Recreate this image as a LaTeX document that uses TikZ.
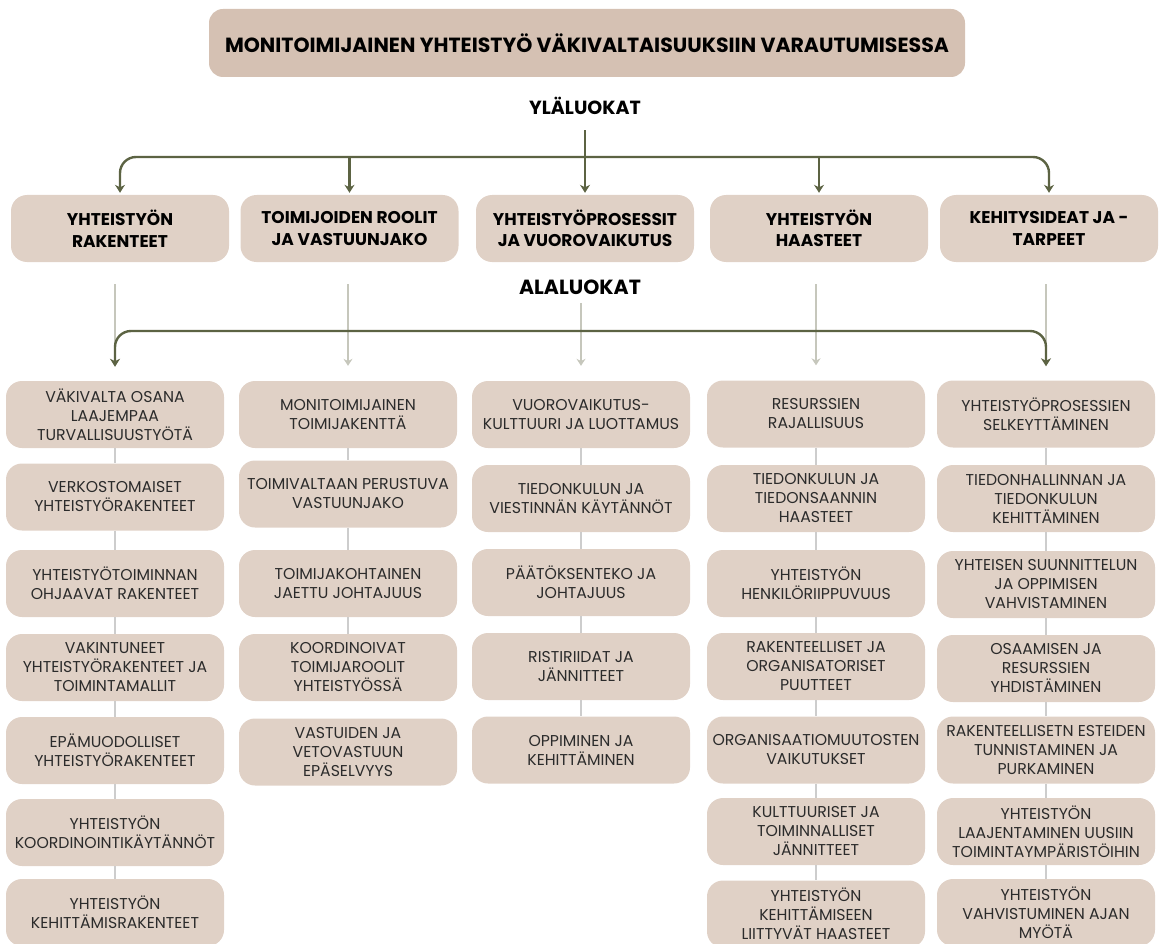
\documentclass[tikz,border=0pt]{standalone}
\usepackage{fontspec}
\setmainfont{Poppins}
\usetikzlibrary{arrows.meta, positioning}

\definecolor{titlefill}{HTML}{D5C1B3}
\definecolor{boxfill}{HTML}{E0D1C6}
\definecolor{olive}{HTML}{5C6343}
\definecolor{palegray}{HTML}{C6C7BC}
\definecolor{linkgray}{HTML}{CDCDCD}
\definecolor{textgray}{HTML}{2B2B2B}

\tikzset{
  titlebox/.style={fill=titlefill, rounded corners=14pt, minimum width=756pt, minimum height=68pt,
    font=\bfseries\fontsize{20.5}{24}\selectfont},
  mainbox/.style={fill=boxfill, rounded corners=16pt, minimum width=218pt, minimum height=67pt,
    inner sep=1pt, align=center, font=\bfseries\fontsize{17}{21.5}\selectfont},
  subbox/.style={fill=boxfill, rounded corners=16pt, minimum width=218pt, minimum height=67pt,
    inner sep=1pt, align=center, text=textgray, font=\fontsize{15.7}{19}\selectfont},
  levellabel/.style={font=\bfseries\fontsize{19}{22}\selectfont},
  darkarrow/.style={olive, line width=2.4pt, rounded corners=16pt, -{Stealth[length=8pt,width=10pt]}},
  palearrow/.style={palegray, line width=2pt, -{Stealth[length=7pt,width=9pt]}},
  link/.style={linkgray, line width=2.4pt}
}

\begin{document}
\begin{tikzpicture}[x=1pt, y=-1pt]
    \useasboundingbox (0,0) rectangle (1161,944);
    \clip (0,0) rectangle (1161,944);

    % Title and upper level label
    \node[titlebox] (title) at (587,43) {MONITOIMIJAINEN YHTEISTYÖ VÄKIVALTAISUUKSIIN VARAUTUMISESSA};
    \node[levellabel] (yla) at (585,106) {YLÄLUOKAT};

    % Main categories
    \node[mainbox] (main1) at (120,228.5) {YHTEISTYÖN\\RAKENTEET};
    \node[mainbox] (main2) at (349.5,228.5) {TOIMIJOIDEN ROOLIT\\JA VASTUUNJAKO};
    \node[mainbox] (main3) at (585,228.5) {YHTEISTYÖPROSESSIT\\JA VUOROVAIKUTUS};
    \node[mainbox] (main4) at (819,228.5) {YHTEISTYÖN\\HAASTEET};
    \node[mainbox] (main5) at (1049,228.5) {KEHITYSIDEAT JA -\\TARPEET};

    \node[levellabel, font=\bfseries\fontsize{20.5}{22}\selectfont] (ala) at (580,287) {ALALUOKAT};

    % Subcategories, one column per main category
    \foreach \txt [count=\i] in {
        {VÄKIVALTA OSANA\\LAAJEMPAA\\TURVALLISUUSTYÖTÄ},
        {VERKOSTOMAISET\\YHTEISTYÖRAKENTEET},
        {YHTEISTYÖTOIMINNAN\\OHJAAVAT RAKENTEET},
        {VAKINTUNEET\\YHTEISTYÖRAKENTEET JA\\TOIMINTAMALLIT},
        {EPÄMUODOLLISET\\YHTEISTYÖRAKENTEET},
        {YHTEISTYÖN\\KOORDINOINTIKÄYTÄNNÖT},
        {YHTEISTYÖN\\KEHITTÄMISRAKENTEET}} {
        \pgfmathsetmacro\rowy{{414.5,497,583.5,667.5,750.5,832.5,912.5}[\i-1]}
        \node[subbox] (c1\i) at (115,\rowy) {\txt};
    }
    \foreach \txt [count=\i] in {
        {MONITOIMIJAINEN\\TOIMIJAKENTTÄ},
        {TOIMIVALTAAN PERUSTUVA\\VASTUUNJAKO},
        {TOIMIJAKOHTAINEN\\JAETTU JOHTAJUUS},
        {KOORDINOIVAT\\TOIMIJAROOLIT\\YHTEISTYÖSSÄ},
        {VASTUIDEN JA\\VETOVASTUUN\\EPÄSELVYYS}} {
        \pgfmathsetmacro\rowy{{414.5,494,583.5,667.5,752}[\i-1]}
        \node[subbox] (c2\i) at (348,\rowy) {\txt};
    }
    \foreach \txt [count=\i] in {
        {VUOROVAIKUTUS-\\KULTTUURI JA LUOTTAMUS},
        {TIEDONKULUN JA\\VIESTINNÄN KÄYTÄNNÖT},
        {PÄÄTÖKSENTEKO JA\\JOHTAJUUS},
        {RISTIRIIDAT JA\\JÄNNITTEET},
        {OPPIMINEN JA\\KEHITTÄMINEN}} {
        \pgfmathsetmacro\rowy{{414.5,498.5,582.5,666.5,750}[\i-1]}
        \node[subbox] (c3\i) at (581,\rowy) {\txt};
    }
    \foreach \txt [count=\i] in {
        {RESURSSIEN\\RAJALLISUUS},
        {TIEDONKULUN JA\\TIEDONSAANNIN\\HAASTEET},
        {YHTEISTYÖN\\HENKILÖRIIPPUVUUS},
        {RAKENTEELLISET JA\\ORGANISATORISET\\PUUTTEET},
        {ORGANISAATIOMUUTOSTEN\\VAIKUTUKSET},
        {KULTTUURISET JA\\TOIMINNALLISET\\JÄNNITTEET},
        {YHTEISTYÖN\\KEHITTÄMISEEN\\LIITTYVÄT HAASTEET}} {
        \pgfmathsetmacro\rowy{{414,498.5,583.5,666.5,750,831.5,914}[\i-1]}
        \node[subbox] (c4\i) at (816,\rowy) {\txt};
    }
    \foreach \txt [count=\i] in {
        {YHTEISTYÖPROSESSIEN\\SELKEYTTÄMINEN},
        {TIEDONHALLINNAN JA\\TIEDONKULUN\\KEHITTÄMINEN},
        {YHTEISEN SUUNNITTELUN\\JA OPPIMISEN\\VAHVISTAMINEN},
        {OSAAMISEN JA\\RESURSSIEN\\YHDISTÄMINEN},
        {RAKENTEELLISETN ESTEIDEN\\TUNNISTAMINEN JA\\PURKAMINEN},
        {YHTEISTYÖN\\LAAJENTAMINEN UUSIIN\\TOIMINTAYMPÄRISTÖIHIN},
        {YHTEISTYÖN\\VAHVISTUMINEN AJAN\\MYÖTÄ}} {
        \pgfmathsetmacro\rowy{{414,498.5,584.5,668.5,750,831.5,912.5}[\i-1]}
        \node[subbox] (c5\i) at (1046,\rowy) {\txt};
    }

    % Links inside the columns
    \draw[link] (c11) -- (c12) -- (c13) -- (c14) -- (c15) -- (c16) -- (c17);
    \draw[link] (c21) -- (c22) -- (c23) -- (c24);
    \draw[link] (c31) -- (c32) -- (c33) -- (c34) -- (c35);
    \draw[link] (c41) -- (c42) -- (c43) -- (c44) -- (c45) -- (c46) -- (c47);
    \draw[link] (c51) -- (c52) -- (c53) -- (c54) -- (c55) -- (c56) -- (c57);

    % Pale arrows from main categories to subcategories
    \foreach \col in {1,2,4,5}
        \draw[palearrow, shorten <=22pt, shorten >=15pt] (c\col1.north |- main\col.south) -- (c\col1.north);
    \draw[palearrow, shorten <=5pt, shorten >=15pt] (c31.north |- ala.south) -- (c31.north);

    % Upper level arrows
    \coordinate (hub) at (585,157);
    \draw[darkarrow, shorten <=12pt, shorten >=2pt] (yla.south) -- (main3.north);
    \draw[darkarrow, shorten >=2pt] (hub) -| (main1.north);
    \draw[darkarrow, shorten >=2pt] (hub) -| (main5.north);
    \draw[darkarrow, shorten >=2pt] (main2.north |- hub) -- (main2.north);
    \draw[darkarrow, shorten >=2pt] (main4.north |- hub) -- (main4.north);

    % Lower level arrows
    \coordinate (alahub) at (580,331);
    \draw[darkarrow, shorten >=14pt] (alahub) -| (c11.north);
    \draw[darkarrow, shorten >=14pt] (alahub) -| (c51.north);
\end{tikzpicture}
\end{document}
